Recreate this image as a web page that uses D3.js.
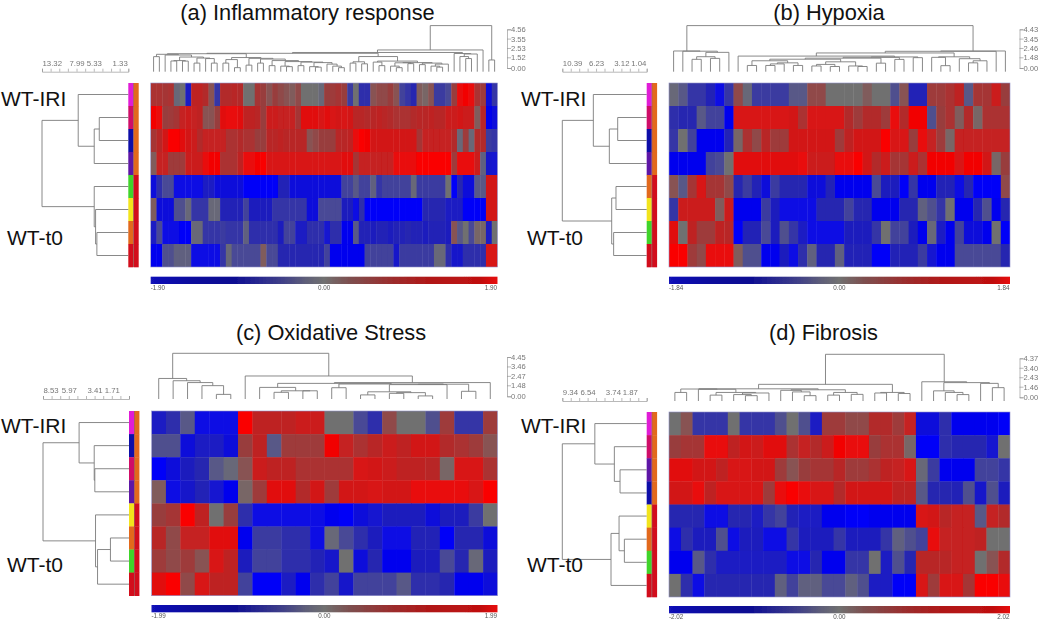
<!DOCTYPE html>
<html><head><meta charset="utf-8">
<script src="https://cdn.jsdelivr.net/npm/d3@7/dist/d3.min.js"></script>
<style>html,body{margin:0;padding:0;background:#fff}svg{display:block}text{font-family:"Liberation Sans",Arial,sans-serif}</style>
</head><body><svg id="c" width="1050" height="631"></svg>
<script>
const heatA=[
[.8,.8,.7,.8,-.1,0,-1.3,1.1,1.1,.9,.3,-.8,.9,.9,1,.9,0,0,.7,.5,.3,.5,.4,.3,.2,.4,0,0,0,-.1,.5,.6,.7,.5,-.7,0,-.9,-.9,.3,.4,.4,.5,.3,-.6,-.8,-1,.2,.1,.3,-.7,-.7,-.5,.5,1.7,1.8,1.7,.8,.6,-1.6,-.8],
[1.8,1.7,.5,.6,.7,1.2,1.3,1.2,1.1,.3,.3,.5,1.6,1.7,1.7,1.6,1.1,1.1,1,.5,1.3,1.3,1.2,1.2,1.2,.7,1.6,1.6,1.6,1.5,1.6,1.5,1.4,1.5,1.4,1,1,.9,1,1.1,1,.9,.8,.8,.8,.9,1,1,1.1,1,1,1.3,1.3,1.4,1.3,1.3,.2,1,-1.8,-1.6],
[.7,1,1.4,1.9,1.9,1.6,1.4,1.3,.9,1.2,1.2,1.2,1.2,.8,.8,.9,.8,.8,.5,.5,1,1,1.1,1,1,1,1,.3,.4,.5,.5,.5,1,1,1.1,1.7,1.9,1.8,1.4,1.4,1.4,1.4,1.4,1.4,1.4,1.4,.7,1.2,1.2,1.2,1.2,1.2,.9,-.1,.6,-.1,.9,.9,-.7,-.8],
[.2,1.2,1.2,.6,.6,.6,1.3,1.3,1.3,1.7,1.8,1.8,.8,.8,.8,1.1,1.7,1.7,1.8,1.9,1.5,1.5,1.5,1.5,1.5,1.5,1.5,1.5,1.5,1.5,1.5,1.5,1.5,1.6,1.6,.7,1.2,1.2,1.2,1.2,1.2,1.2,1.7,1.7,1.7,1.7,1.9,1.9,1.9,1.9,1.9,1.9,.6,1.7,1.7,1.7,1.3,-.2,-1.4,-1.5],
[-1.6,-.9,-.5,-.5,-1.7,-1.7,-1.7,-1.7,-1.7,-1.3,-1.3,-1.6,-1.6,-1.6,-1.6,-1.6,-1.9,-1.9,-1.9,-1.9,-1.9,-1.9,-1.1,-1.1,-1.6,-1.6,-1.6,-1.6,-1.6,-1.6,-1.6,-1.6,-1.6,-.6,-.6,-.3,-.6,-.6,-.2,-.8,-.6,-.6,-.6,-.6,-.6,-.1,-.7,-.7,-.7,-.7,-.7,0,-1.9,-1,-1.6,-1.6,-.3,-.3,1.4,1.4],
[.2,-1.6,-1.6,-1.6,-.4,-.4,-.1,-.8,-.8,-.8,-.1,-.1,-1.1,-1.1,-1.1,-1.1,-.6,-1.2,-1.2,-1.2,-1.2,-.8,-.8,-.8,-.8,-.8,-.8,-1.6,-1.6,-.5,-.5,-.5,-.5,-1.2,-1.2,-1.7,-.9,-1.9,-1.9,-1.9,-1.9,-1.9,-1.9,-1.9,-1.9,-1.9,-1.9,-1,-1,-1,-1,-1.3,-1.3,-1.3,-1.9,-1.9,-1.9,-1.9,1.4,1.4],
[-1.3,-.5,-1.7,-1.7,-1.7,-1.9,-1.9,-.1,-.1,-.8,-.8,-.8,-.7,-.8,-.8,-.8,-.2,-.9,-.9,-.9,-.9,-.9,-1.2,-.6,-.6,-1.3,-1.3,-.9,-.9,-.9,-1.5,-.9,-.9,-1.8,-1.8,-.3,-1.1,-1.1,-1.2,-1.1,-1.1,-1.2,-1.1,-1.1,-1,-1.1,-1.1,-1.2,-1.1,-1.1,-1.1,-1.2,.3,-.3,0,-.5,.1,.1,-1.3,0],
[-1.8,-1.8,-.4,-.4,-.2,-.2,-.2,-1.7,-1.7,-1.7,-1.7,-1.7,-.8,-.1,-.5,-.5,-.5,-.5,-.5,.2,-.5,-.5,-1,-1,-1,-1,-1,-1,-1,-1,-.6,-1.8,-1.8,-1.8,-1.8,-1.8,-1.8,-.6,-.6,-.6,-.6,-.6,-1.4,-.7,-.7,-.7,-.7,-.7,-.7,-.1,-.1,-.9,-1.4,-1.4,-.9,-.9,-.9,-.9,1.5,1.5]];
const heatB=[
[-.1,-.3,-.8,-.8,-1.1,-1.7,-.8,.4,-.1,-.7,-.7,-.7,-.7,-.3,-.3,.4,.4,0,0,0,0,.2,0,0,-.4,.3,-1.1,-1.1,.6,.6,.8,1.1,-.3,.7,.7,1.3,.5],
[-.9,-1,-1,-.3,-.6,-.6,-1.8,1.5,1.5,1.5,1.5,1.5,1.5,1.4,.8,1.5,1.5,1.5,1.5,.9,.6,.9,.9,.6,1.7,.9,1.8,1.8,-.4,.5,.8,.2,.9,.1,.8,.8,.8],
[-.8,0,-.6,-1.8,-1.8,-1.8,-1.1,.1,.8,.4,1,.6,.6,1.4,1.4,1.4,1.4,1.4,.6,1.1,1.4,1.4,1.4,1.9,1.5,1.5,.5,1.7,1.2,.6,.1,1.2,1.2,1.2,1.2,1.2,1.2],
[-1.8,-1.8,-1.8,-1.8,-.6,-.5,0,1.6,1.6,1.6,1.6,1.6,1.6,1.6,1.7,1.3,1.3,1.3,1.7,1.7,1.9,1.4,.9,1.3,.7,.7,1.3,.8,1.8,1.8,1.8,1.5,1.8,1.8,1.4,.1,.5],
[.3,-.3,.7,1.5,.7,.7,.4,-1,-.7,-1.1,-1.6,-.7,-1,-1,-1,-1.6,-1.6,-1.1,-1.8,-1.8,-1.8,-1.8,-.5,-1.2,-1.2,-1.9,-.8,-1.8,-1.8,-1.1,-1.1,-1.7,-1,-1.9,-1.9,-1.9,.4],
[-.8,1.3,1.3,1.3,1.3,.2,1.3,-1.8,-1.8,-1.8,-.7,-1.2,-1.7,-1.7,-1.7,-1.7,-1,-1,-1,-.6,-1,-1,-1.8,-1.8,-1.8,-1,-1,-.2,-.4,-.8,0,-1.8,-1.8,-1,-.4,-1.8,-1],
[1.6,0,1.1,.6,.6,1.1,1,-1.9,-1.1,-1.1,-.5,-1.2,-.4,-.8,-1.3,-1.7,-1.7,-1.7,-1.7,-1.2,-1.2,-1.2,-.8,0,-.6,-.6,-1.2,-1.8,-.1,-1.3,-1.8,-.6,-1.6,-1.6,-1.8,0,-1.9],
[1.9,1.9,.6,.4,1.7,1.7,1.7,.2,-.4,-.4,-1.8,-1.8,-1.2,-1.7,-.9,-.2,-1,-1,-.2,-1.1,-1.1,-1.1,-1.9,-1.9,-1.1,-1.1,-1.1,-.7,-1.5,-1.8,-1.8,-.5,-.5,-.5,-.5,-.5,-1]];
const heatC=[
[-1.3,-.9,-.3,-1.7,-1.7,-1.7,1.9,1.1,1.1,1.1,1.3,1.3,0,0,-.5,-.9,.4,0,0,-.4,.6,-.8,-.8,.6],
[-.4,-.4,-1.6,-1.3,-1.3,-1.6,.5,1.1,-.3,.6,.6,.6,1.8,1.2,.8,1,1.3,1.1,1.4,1.4,.9,.8,.6,.3],
[-1.9,-1.6,-1.2,-1,-.3,-.1,.3,1.3,1.1,1.1,.8,.8,.8,.8,1.5,1.4,1.3,1.1,1.1,1,.1,1.5,1.5,.8],
[.2,-1.7,-1.4,-1.1,-1.5,-1.8,.1,.6,1.6,1.6,.9,1.4,.6,1.4,1.4,1.5,1.4,1.4,1.7,1.7,1.7,1.7,1.5,1.9],
[.5,.7,1.9,1.1,0,.5,-.9,-1.7,-1.7,-1.7,-1.7,-1.7,-1.8,-1.9,-1.6,-1.5,-1.2,-1.2,-1.2,-1.6,-1.2,-1.2,-.7,0],
[1,.4,1.2,1.2,1.6,1.6,-1.8,-.7,-.7,-.9,-.9,-1.7,-.1,-.5,-.9,-1.2,-1.7,-1.7,-1.1,-1.1,-1.9,-1,-1,-1.6],
[.6,.4,.6,.3,1.5,1.1,-1.2,-.6,-.6,-.9,-.9,-1.1,-1.4,0,-1.6,-1,-1.8,-1.8,-1.2,-1.2,-.5,-1,-.1,-1.2],
[1.6,1.9,.4,1.5,1.1,1.1,-.6,-1.9,-1.9,-1.3,-1.8,-.9,-.6,-1.4,-.6,-.6,-.6,-.3,-.9,-.9,-1,-1.8,-1.8,-1.6]];
const heatD=[
[0,.3,-.8,-.8,-.8,0,-.8,-.8,-.8,-.4,0,-.4,-1.3,.6,.6,.4,.4,.9,.9,.6,1.2,-1.6,-1.6,-.9,-1.8,-1.8,-1.8,-1.8,-1.9],
[.5,.7,.7,1.7,1.7,1.1,1.4,1.3,1.6,1.6,.8,1.2,.9,1.3,1.8,1.7,1.7,.5,.8,.8,.1,-1.9,-1.9,-.9,-1,-1,-1,-1.5,0],
[1.6,1.6,1.4,1.4,1.1,1.5,1.5,1.4,1.4,.6,.3,.5,.7,.7,1,.6,.6,.8,1.1,1.2,1.5,-.1,-.7,-1.8,-1.8,-1.8,-.6,-.6,-.8],
[1.4,1.4,1.7,1.1,1.5,1.5,1.5,1.5,.6,1.7,1.9,1.7,1.5,1.5,.9,1.4,1.4,1.4,1.4,1.1,1.1,-.3,-1,-1,-1.1,-.4,-1.4,-.4,-1.2],
[-1,-1,-1,-1.7,-1.7,-1,-1,-1.3,-.8,-.6,-1.1,-1.3,-1.3,-1.8,-1.8,-1.9,-1.9,-1.8,-1.8,-1.8,-1.8,1.5,1.4,1,1.2,1.2,-.3,1.2,.9],
[-1.7,-.9,-1.2,-1.2,-.4,-1.7,-1.2,-1.2,-1.7,-1.7,-.8,-1.2,-1.2,-1.2,-.8,-1.2,-1.2,-1.2,-.8,-.2,-.4,-.6,1.7,1.2,1.2,1.2,1.1,0,0],
[-1.8,-1.8,-.3,-.9,-1.3,-1.3,-1.3,-1.3,-1.3,-1.3,-1.7,-1.7,-1,-1.8,-1.8,-.8,-.8,0,-1.3,-.4,-1,1,1,1,1.2,1.2,0,.3,.9],
[0,-.9,-1.7,-1,-1,-1,-1,-1,-1,-.2,-.6,-.2,-.2,-.5,-.5,-.2,-.4,-1.3,-1.3,-1.9,-1.9,1.5,.6,1.5,1.5,.7,1.9,1.9,1.7]];

// Dendrograms: [height, child, child]; a bare number is a leaf (column or row position)
const topTreeA=[4.56,
 [2.15,
  [1.9,
   [1.82,
    [1.78,
     [1.72,[1.49,0,1],[1.65,2,[1.45,[1.1,[1.06,3,4],[1.05,5,6]],[1.35,[.85,7,8],[1.3,9,[.85,10,11]]]]]],
     [1.4,[1.2,[.85,12,13],[.4,14,15]],[1.32,[.65,16,17],[1.25,[.85,18,19],[1.1,[.6,20,21],[1,[.55,22,[.5,23,24]],[.95,[.6,25,26],[.9,[.5,27,[.45,28,29]],[.75,30,[.55,31,[.4,32,33]]]]]]]]]]],
    [1.5,[.98,[.85,34,35],[.78,36,37]],[1.05,[.95,38,[.6,39,40]],[.9,[.88,[.55,41,[.4,42,43]],[.8,44,45]],[.85,[.7,46,47],[.75,[.55,48,[.45,49,50]],51]]]]]],
   [1.8,52,[1.75,[1.5,53,[1.3,54,55]],56]]],
  57],
 [1.16,58,59]];
const topTreeB=[4.43,
 [1.99,0,[1.97,1,[1.86,[1.44,[1.19,2,3],[1.28,4,5]],6]]],
 [1.99,
  [1.96,
   [1.8,
    [1.5,7,[1.42,[1.38,[1.3,[1.2,[1.05,[.6,8,9],[.85,[.75,[.6,10,11],12],[.6,13,14]]],[.95,[.7,[.55,15,16],[.5,17,18]],[.55,19,[.5,20,21]]]],[.82,22,23]],[1.18,24,25]],[1.35,26,27]]],
    [1.43,[1.38,28,[.58,29,30]],[1.25,31,[1.05,[.85,32,33],34]]]],
   35],
  36]];
const topTreeC=[4.45,
 [2,0,[1.78,1,[1.6,2,[1.3,3,[.45,4,5]]]]],
 [2.24,6,
  [1.6,
   [1.52,
    [1.13,7,[.8,[.65,8,9],[.8,10,11]]],
    [1.46,[1.1,12,13],[1.44,[1.4,[.7,[.4,14,15],[.62,[.55,16,17],[.3,18,19]]],20],[.75,21,22]]]],
   23]]];
const topTreeD=[4.37,
 [1.56,
  [1.14,
   [1.12,[.8,0,1],[1.1,2,[.8,[.55,3,4],[.75,[.6,5,[.5,6,7]],8]]]],
   [1.05,[1.0,9,[.85,10,[.5,11,12]]],[.8,[.55,13,14],[.62,15,16]]]],
  [.8,[.75,17,18],[.7,19,20]]],
 [1.8,21,[1.72,[.95,22,[.8,23,[.6,24,25]]],[1.65,26,[1.25,27,28]]]]];

const sideTreeA=[13.32,[7.73,0,[5.26,[4.48,1,2],3]],[5.26,4,[5.05,5,[4.85,6,7]]]];
const sideTreeB=[10.39,[6.57,0,[4.6,[3.57,1,2],3]],[4.31,[3.78,4,5],[4.07,6,7]]];
const sideTreeC=[8.53,[4.95,0,[3.45,1,[3.39,2,3]]],[3.32,4,[3.12,[1.84,5,6],7]]];
const sideTreeD=[9.34,[5.74,0,[3.58,1,[2.95,2,3]]],[3.95,[3.06,4,[2.47,5,6]],7]];

const topTicksA=[4.56,3.55,2.53,1.52,0];
const topTicksB=[4.43,3.45,2.46,1.48,0];
const topTicksC=[4.45,3.46,2.47,1.48,0];
const topTicksD=[4.37,3.40,2.43,1.46,0];
const sideLabelsA=[13.32,7.99,5.33,1.33];
const sideLabelsB=[10.39,6.23,3.12,1.04];
const sideLabelsC=[8.53,5.97,3.41,1.71];
const sideLabelsD=[9.34,6.54,3.74,1.87];
const barMaxA=1.90, barMaxB=1.84, barMaxC=1.99, barMaxD=2.02;

const magenta="#e01fd6",crimson="#cf1168",navy="#1010a8",purple="#5d12a6",green="#3fd42c",yellow="#f2e41f",orange="#e2691f",red="#d2101c";
const stripA=[magenta,crimson,navy,purple,green,yellow,orange,red];
const stripB=[magenta,crimson,navy,purple,orange,yellow,green,red];
const stripC=[magenta,navy,crimson,purple,yellow,orange,green,red];
const stripD=[magenta,crimson,purple,navy,yellow,orange,green,red];
const groupStrip=[orange,orange,orange,orange,red,red,red,red];

const titles=["(a) Inflammatory response","(b) Hypoxia","(c) Oxidative Stress","(d) Fibrosis"];
const groupNames=["WT-IRI","WT-t0"];

// Layout
const layouts=[
 {heat:heatA,top:topTreeA,side:sideTreeA,topTicks:topTicksA,sideLabels:sideLabelsA,max:barMaxA,strip:stripA,title:titles[0],
  x0:150.7,x1:497.5,y0:83,y1:267,tx:307.5,ty:20,lx:1,ly:106,l2x:7,l2y:245,sx0:42,sx1:128.3,stx:128.3,topAxisX:507,
  topAxisY:[68,57.3,29.3],treeY:[71.7,25.6],sideAxisY:71.7,barY:276.7},
 {heat:heatB,top:topTreeB,side:sideTreeB,topTicks:topTicksB,sideLabels:sideLabelsB,max:barMaxB,strip:stripB,title:titles[1],
  x0:669,x1:1010,y0:83,y1:267,tx:829,ty:20,lx:521,ly:106,l2x:527,l2y:245,sx0:562.3,sx1:646.7,stx:646.7,topAxisX:1019.5,
  topAxisY:[68,57.3,29.3],treeY:[71.7,25.6],sideAxisY:71.7,barY:276.7},
 {heat:heatC,top:topTreeC,side:sideTreeC,topTicks:topTicksC,sideLabels:sideLabelsC,max:barMaxC,strip:stripC,title:titles[2],
  x0:151.5,x1:497.5,y0:411,y1:595.7,tx:331,ty:340,lx:1,ly:433,l2x:7,l2y:572,sx0:43,sx1:129,stx:129,topAxisX:507,
  topAxisY:[396.3,385.3,357],treeY:[399,353.3],sideAxisY:399,barY:605},
 {heat:heatD,top:topTreeD,side:sideTreeD,topTicks:topTicksD,sideLabels:sideLabelsD,max:barMaxD,strip:stripD,title:titles[3],
  x0:669,x1:1010,y0:412,y1:597,tx:823.5,ty:340,lx:521,ly:433,l2x:527,l2y:572,sx0:562.3,sx1:646.7,stx:646.7,topAxisX:1019.5,
  topAxisY:[397.3,386.7,358.3],treeY:[401,354.3],sideAxisY:401,barY:606}
];

const cellColor=d3.scaleLinear().domain([-1.9,-1.5,-1,-.5,0,.5,1,1.5,1.9])
  .range(["#0000f8","#1212d0","#2828b0","#484896","#707070","#983e3e","#b82828","#d81414","#fa0000"]);
const barStops=[[0,"#1212b8"],[.12,"#08089c"],[.23,"#0a0a92"],[.3,"#242490"],[.38,"#404088"],[.45,"#606078"],[.5,"#707070"],[.57,"#7c5050"],[.68,"#983030"],[.8,"#b01818"],[.95,"#c01010"],[1,"#e81010"]];

const svg=d3.select("#c");
const defs=svg.append("defs");
const blur=defs.append("filter").attr("id","soft").attr("x","-5%").attr("y","-5%").attr("width","110%").attr("height","110%");
blur.append("feGaussianBlur").attr("stdDeviation",.7);
const blurT=defs.append("filter").attr("id","softT").attr("x","-10%").attr("y","-10%").attr("width","120%").attr("height","120%");
blurT.append("feGaussianBlur").attr("stdDeviation",.3);
const grad=defs.append("linearGradient").attr("id","bar");
barStops.forEach(s=>grad.append("stop").attr("offset",s[0]).attr("stop-color",s[1]));

function place(node,fx,out){ // returns [position along leaves, height]
  if(typeof node==="number") return [fx(node),0];
  const a=place(node[1],fx,out), b=place(node[2],fx,out);
  out.push({a,b,h:node[0]});
  return [(a[0]+b[0])/2,node[0]];
}

layouts.forEach(p=>{
  const g=svg.append("g");
  const nRows=p.heat.length,nCols=p.heat[0].length;
  const xB=d3.scaleBand().domain(d3.range(nCols)).range([p.x0,p.x1]);
  const yB=d3.scaleBand().domain(d3.range(nRows)).range([p.y0,p.y1]);

  // heat cells
  const clipId="clip"+p.title.charAt(1);
  defs.append("clipPath").attr("id",clipId).append("rect").attr("x",p.x0).attr("y",p.y0).attr("width",p.x1-p.x0).attr("height",p.y1-p.y0);
  const cells=g.append("g").attr("clip-path",`url(#${clipId})`).append("g").attr("filter","url(#soft)");
  p.heat.forEach((row,r)=>{
    cells.selectAll(null).data(row).join("rect")
      .attr("x",(d,c)=>xB(c)).attr("y",yB(r))
      .attr("width",xB.bandwidth()+.4).attr("height",yB.bandwidth()+.4)
      .attr("fill",d=>cellColor(d));
  });
  g.append("rect").attr("x",p.x0).attr("y",p.y0).attr("width",p.x1-p.x0).attr("height",p.y1-p.y0)
    .attr("fill","none").attr("stroke","#8f8fc8").attr("stroke-width",.6);

  // strips
  const sx=p.stx;
  const strips=g.append("g").attr("filter","url(#softT)");
  strips.selectAll(null).data(p.strip).join("rect").attr("x",sx).attr("y",(d,i)=>yB(i)).attr("width",5).attr("height",yB.bandwidth()+.3).attr("fill",d=>d);
  strips.selectAll(null).data(groupStrip).join("rect").attr("x",sx+5.4).attr("y",(d,i)=>yB(i)).attr("width",5).attr("height",yB.bandwidth()+.3).attr("fill",d=>d);
  strips.append("rect").attr("x",sx+5).attr("y",p.y0).attr("width",.5).attr("height",p.y1-p.y0).attr("fill","#702020");

  // top dendrogram
  const topY=d3.scaleLinear().domain([0,p.topTicks[0]]).range(p.treeY);
  const topLinks=[];
  place(p.top,c=>xB(c)+xB.bandwidth()/2,topLinks);
  const dT=d3.path();
  topLinks.forEach(l=>{
    const y=topY(l.h);
    dT.moveTo(l.a[0],topY(l.a[1]));dT.lineTo(l.a[0],y);dT.lineTo(l.b[0],y);dT.lineTo(l.b[0],topY(l.b[1]));
  });
  g.append("path").attr("d",dT.toString()).attr("fill","none").attr("stroke","#7c7c7c").attr("stroke-width",.9);

  // side dendrogram
  const sideX=d3.scaleLinear().domain([0,p.sideLabels[0]]).range([p.sx1,p.sx0]);
  const sideLinks=[];
  place(p.side,r=>yB(r)+yB.bandwidth()/2,sideLinks);
  const dS=d3.path();
  sideLinks.forEach(l=>{
    const x=sideX(l.h);
    dS.moveTo(sideX(l.a[1]),l.a[0]);dS.lineTo(x,l.a[0]);dS.lineTo(x,l.b[0]);dS.lineTo(sideX(l.b[1]),l.b[0]);
  });
  g.append("path").attr("d",dS.toString()).attr("fill","none").attr("stroke","#7c7c7c").attr("stroke-width",.9);

  // right-hand height axis of the top dendrogram
  const tt=p.topTicks;
  const axisY=d3.scaleLinear().domain([tt[4],tt[3],tt[0]]).range(p.topAxisY);
  const ga=g.append("g").attr("transform",`translate(${p.topAxisX},0)`).attr("filter","url(#softT)")
    .call(d3.axisRight(axisY).tickValues(tt).tickFormat(d3.format(".2f")).tickSize(4).tickPadding(0));
  ga.selectAll("path,line").attr("stroke","#8a8a8a").attr("stroke-width",.6);
  ga.selectAll("text").attr("font-size",7.6).attr("fill","#777").attr("font-family","Liberation Sans");

  // top axis of side dendrogram: ten equal divisions, four of them labelled
  const step=p.sideLabels[0]/10;
  const sideTicks=d3.range(0,11).map(i=>i*step);
  const gs=g.append("g").attr("transform",`translate(0,${p.sideAxisY})`).attr("filter","url(#softT)")
    .call(d3.axisTop(sideX).tickValues(sideTicks).tickSize(3).tickPadding(3)
      .tickFormat(d=>{const s=p.sideLabels.find(v=>Math.abs(v-d)<step/2);return s!==undefined?s.toFixed(2):"";}));
  gs.selectAll("path,line").attr("stroke","#8a8a8a").attr("stroke-width",.6);
  gs.selectAll("text").attr("font-size",7.8).attr("fill","#777").attr("font-family","Liberation Sans");
  gs.selectAll("text").filter(function(){return this.textContent===p.sideLabels[0].toFixed(2);}).attr("text-anchor","start");

  // colour bar
  const bx=d3.scaleLinear().domain([-p.max,0,p.max]).range([p.x0,(p.x0+p.x1)/2,p.x1]);
  g.append("rect").attr("x",p.x0).attr("y",p.barY).attr("width",p.x1-p.x0).attr("height",7.3).attr("fill","url(#bar)").attr("filter","url(#softT)");
  const barT=g.append("g").attr("filter","url(#softT)");
  [-p.max,0,p.max].forEach((v,i)=>{
    barT.append("text").attr("x",bx(v)+(i==2?-.5:0)).attr("y",p.barY+13)
      .attr("text-anchor",["start","middle","end"][i]).attr("font-size",6.3).attr("fill","#555").text(v.toFixed(2));
  });

  // titles and group labels
  g.append("text").attr("x",p.tx).attr("y",p.ty).attr("text-anchor","middle").attr("font-size",21.8).attr("fill","#111").text(p.title);
  g.append("text").attr("x",p.lx).attr("y",p.ly).attr("font-size",21).attr("fill","#111").text(groupNames[0]);
  g.append("text").attr("x",p.l2x).attr("y",p.l2y).attr("font-size",21).attr("fill","#111").text(groupNames[1]);
});
</script></body></html>
